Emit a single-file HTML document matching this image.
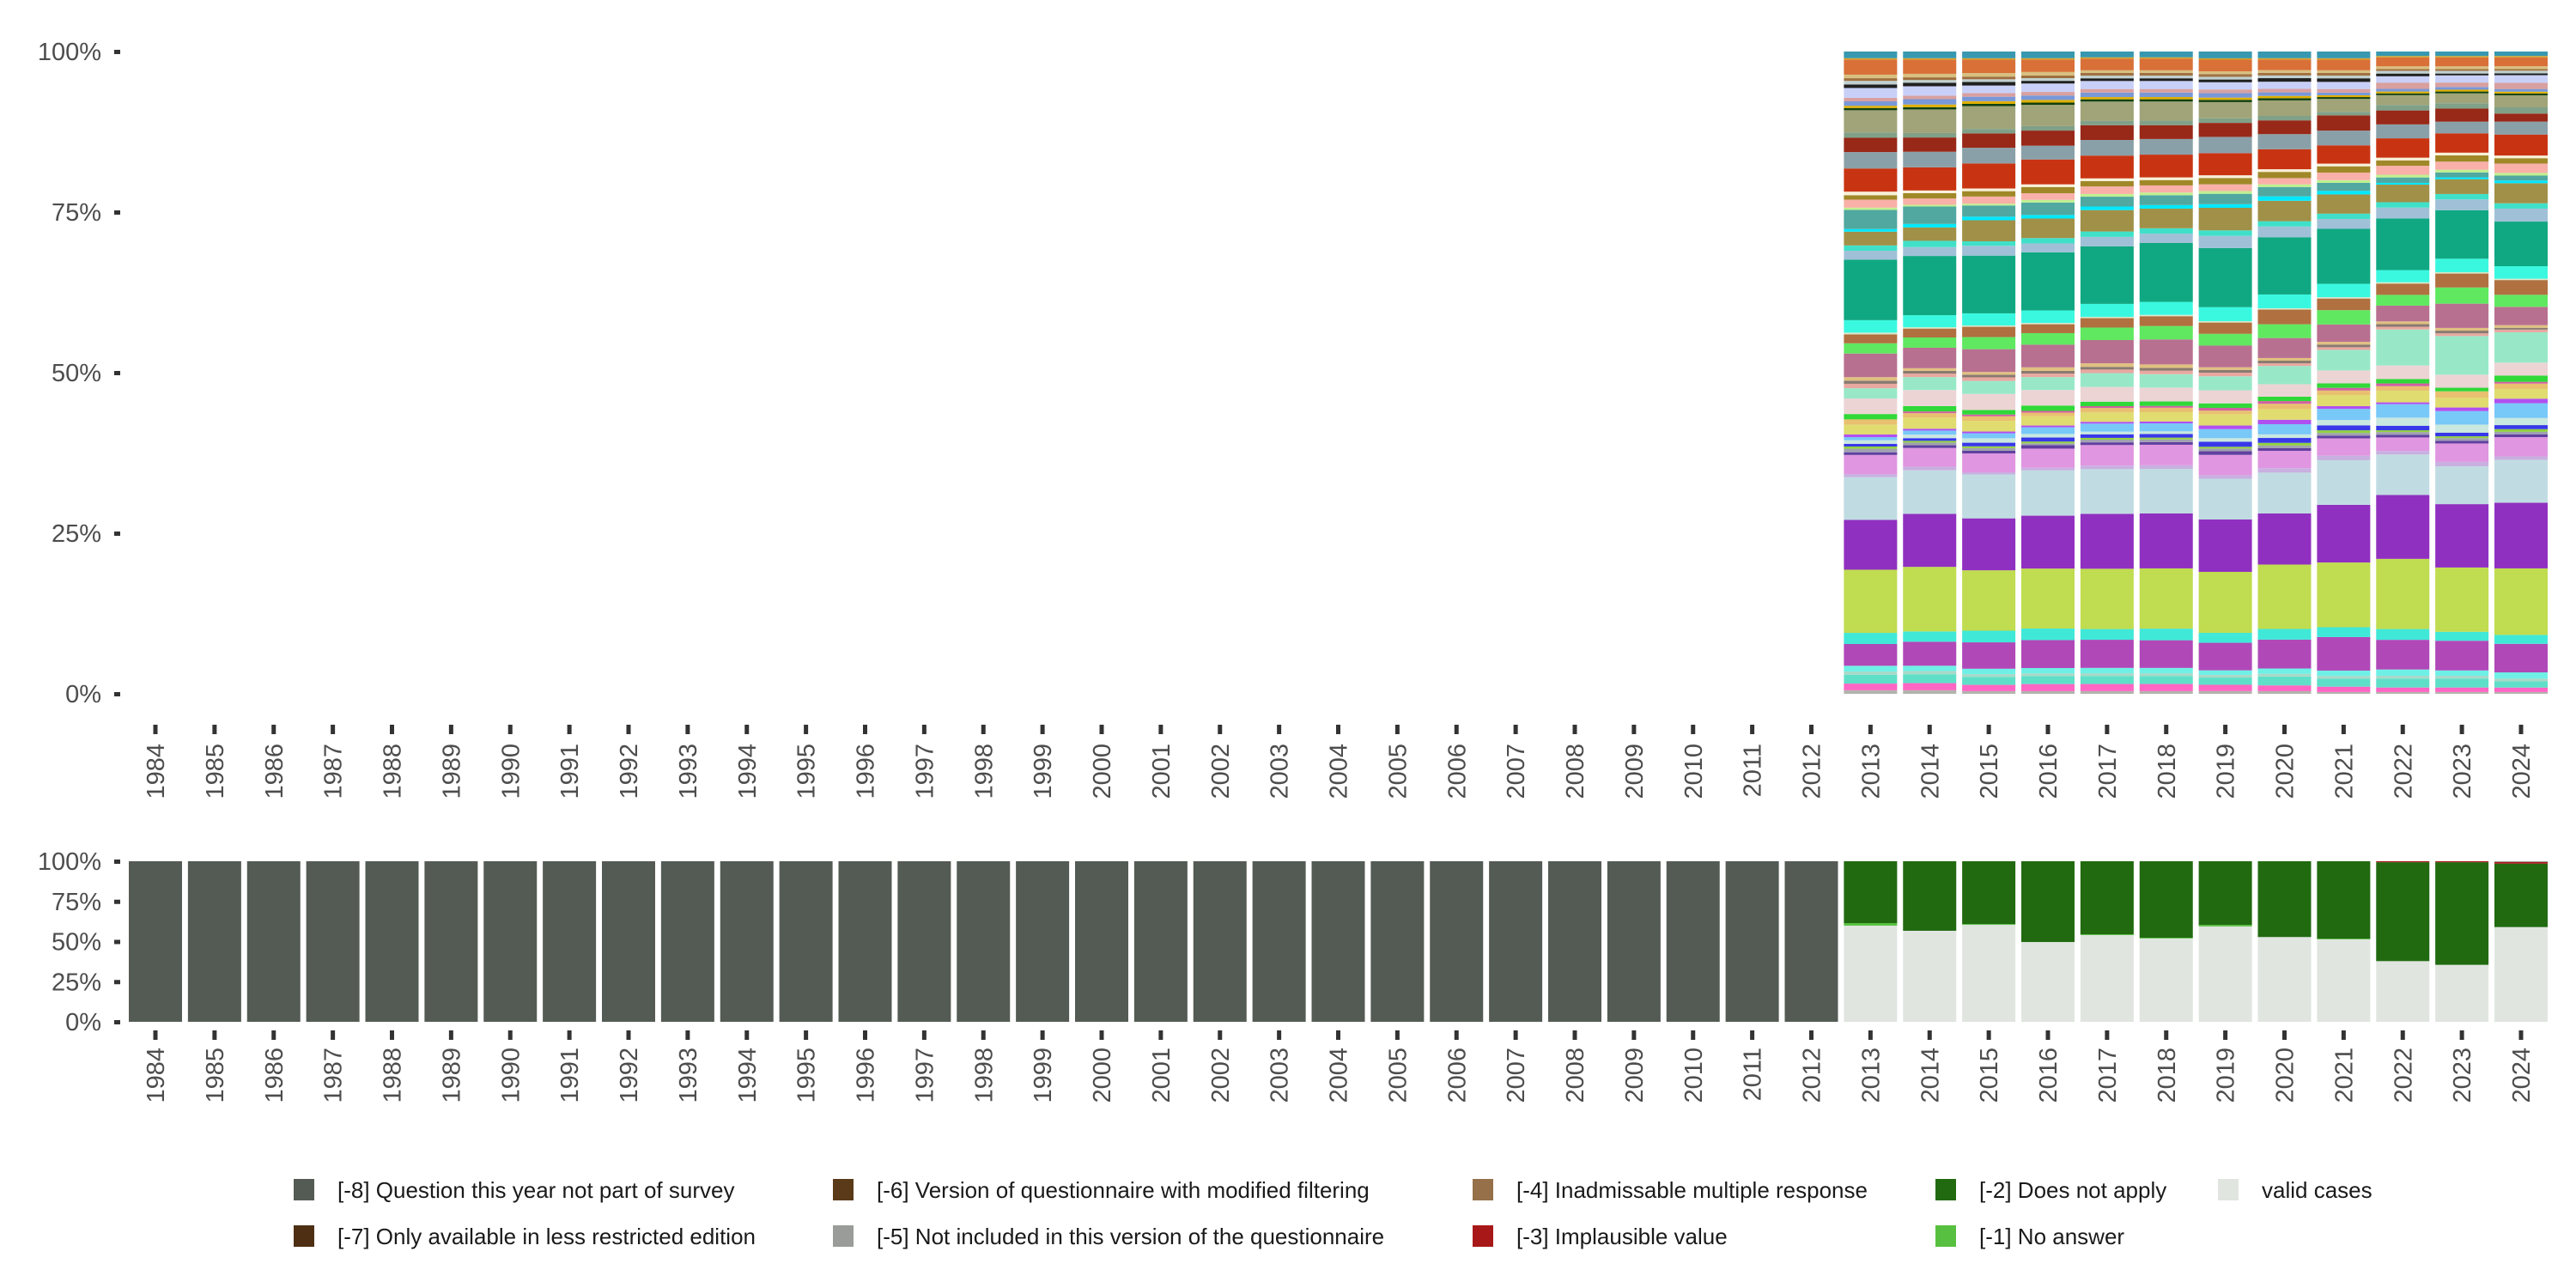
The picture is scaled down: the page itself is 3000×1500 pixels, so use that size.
<!DOCTYPE html>
<html><head><meta charset="utf-8">
<style>
html,body{margin:0;padding:0;background:#fff;}
svg{display:block;font-family:"Liberation Sans",sans-serif;}
</style></head>
<body>
<svg id="chart" width="3000" height="1500" viewBox="0 0 3000 1500" xmlns="http://www.w3.org/2000/svg">
<g id="top"></g>
<g id="bottom"></g>
<g id="legend"></g>
</svg>
<script>
// ---- data ----
const allYears = [1984,1985,1986,1987,1988,1989,1990,1991,1992,1993,1994,1995,1996,1997,1998,1999,2000,2001,2002,2003,2004,2005,2006,2007,2008,2009,2010,2011,2012,2013,2014,2015,2016,2017,2018,2019,2020,2021,2022,2023,2024];
const topYears = [2013,2014,2015,2016,2017,2018,2019,2020,2021,2022,2023,2024];
const yTickValues = [0,25,50,75,100];
const yTickLabels = ["0%","25%","50%","75%","100%"];
// top chart categories (bottom to top)
const segColors = ["#b3b3ad","#ff66c4","#5fdfc8","#a8d8c8","#6ff0e6","#b048b8","#40e8d8","#c0dc50","#9030c0","#c0dce2","#c8b0e0","#e096e0","#6040a0","#a0a0b0","#90d040","#3838e8","#c8e8e0","#78c8f8","#b050f0","#e0dc70","#e8c070","#d060a0","#30d838","#ecd4d4","#98e8c8","#e8a8a0","#8a7a70","#e0c080","#b87090","#60e860","#b07040","#d8e8c8","#3af8e0","#10a882","#a0c0d8","#40e0c8","#a09048","#00e8ff","#50a8a0","#c0f090","#f8b0a8","#a08828","#f8f0d8","#c83412","#8aa0a8","#982818","#80a088","#a0a478","#104010","#e0b000","#7898d8","#d8a0a0","#c8d0f8","#202020","#c0d0d0","#a07040","#d8c080","#d87038","#d8a020","#3898b0"];
const segValues = [
[8,8,6,6,6,6,6,6,4,4,4,4],
[15,16,14,16,16,16,14,13,12,10,10,10],
[20,20,18,18,18,18,16,20,18,20,20,14],
[7,7,6,6,6,6,6,6,6,6,6,6],
[13,12,12,12,12,12,10,12,12,14,12,14],
[49,54,59,63,63,62,61,65,75,66,66,64],
[25,23,26,26,24,26,22,24,22,24,20,20],
[142,145,135,135,135,135,135,145,145,156,143,149],
[112,119,116,119,123,123,116,115,129,142,141,147],
[96,98,98,102,100,100,90,92,100,90,84,96],
[7,8,5,6,8,8,8,10,10,8,10,8],
[43,42,42,43,46,46,45,39,39,30,41,43],
[6,6,6,8,6,6,8,6,6,6,6,6],
[8,6,6,4,6,6,6,6,6,6,6,6],
[5,4,4,4,4,4,4,6,6,4,4,6],
[6,6,8,9,8,8,11,11,11,10,8,9],
[8,8,10,8,6,6,8,8,12,18,18,16],
[7,9,11,15,18,18,20,23,25,30,30,33],
[6,4,4,4,4,4,8,10,6,4,8,10],
[22,25,24,21,21,21,25,24,25,26,22,22],
[12,10,10,8,10,10,8,12,10,10,14,12],
[0,4,4,4,4,4,6,6,6,6,0,4],
[12,12,10,12,10,10,10,10,10,10,8,14],
[35,36,36,35,33,31,29,28,29,30,29,29],
[23,29,29,29,31,30,31,41,46,80,86,68],
[10,8,8,8,8,8,8,6,6,6,6,6],
[7,6,6,6,6,6,6,6,6,6,6,4],
[8,6,6,8,8,8,6,6,6,6,6,6],
[53,46,51,51,52,56,48,45,39,35,54,41],
[23,23,27,26,28,30,26,31,32,24,36,27],
[20,20,23,20,21,22,25,33,26,25,31,33],
[4,3,3,3,3,3,3,3,3,3,3,3],
[28,27,27,28,29,29,31,31,30,27,30,28],
[136,133,129,131,129,132,131,129,123,115,108,100],
[20,20,22,20,21,21,27,24,22,24,24,29],
[12,14,10,12,12,12,12,12,12,12,12,12],
[31,30,47,44,48,44,50,46,43,39,33,45],
[6,8,8,8,8,8,8,10,8,4,4,6],
[43,39,25,28,22,22,23,21,18,12,11,11],
[5,4,4,6,6,6,6,6,6,6,6,6],
[18,14,16,15,17,16,15,14,17,20,18,21],
[10,12,12,14,12,12,14,14,14,12,14,12],
[8,6,6,6,6,6,6,6,6,6,6,6],
[52,52,56,56,51,51,49,45,41,43,43,47],
[37,35,35,31,35,35,36,34,33,31,26,29],
[32,32,32,34,33,31,31,31,34,31,29,18],
[12,10,10,10,10,10,10,10,8,12,12,14],
[50,53,51,48,43,43,36,35,29,22,22,27],
[5,5,5,5,5,5,5,5,4,4,4,4],
[5,6,6,6,5,5,5,5,4,4,4,4],
[10,12,10,10,10,10,10,8,6,6,6,6],
[8,8,8,8,8,8,8,8,8,14,10,14],
[22,21,17,19,18,18,16,16,16,14,16,17],
[8,8,8,6,6,6,6,8,8,6,4,4],
[8,6,6,6,6,6,6,6,6,6,6,6],
[6,6,6,6,6,6,6,6,6,4,4,4],
[8,8,8,8,6,6,6,6,6,6,6,6],
[34,32,30,28,26,26,26,24,24,20,20,20],
[3,3,3,3,3,3,3,3,3,3,3,3],
[15,15,15,15,13,13,15,15,15,10,10,10]
];
// bottom chart (percent), indexed by allYears
const notPartOfSurvey = [100,100,100,100,100,100,100,100,100,100,100,100,100,100,100,100,100,100,100,100,100,100,100,100,100,100,100,100,100,0,0,0,0,0,0,0,0,0,0,0,0];
const validCases = [0,0,0,0,0,0,0,0,0,0,0,0,0,0,0,0,0,0,0,0,0,0,0,0,0,0,0,0,0,59.9,56.7,60.4,49.7,54.0,51.9,59.4,52.8,51.3,37.8,35.5,59.0];
const noAnswer = [0,0,0,0,0,0,0,0,0,0,0,0,0,0,0,0,0,0,0,0,0,0,0,0,0,0,0,0,0,1.6,0,0.5,0,0.5,0.5,1.0,0,0.5,0,0,0];
const doesNotApply = [0,0,0,0,0,0,0,0,0,0,0,0,0,0,0,0,0,0,0,0,0,0,0,0,0,0,0,0,0,38.5,43.3,39.1,50.3,45.5,47.6,39.6,47.2,48.2,61.6,63.9,39.5];
const implausible = [0,0,0,0,0,0,0,0,0,0,0,0,0,0,0,0,0,0,0,0,0,0,0,0,0,0,0,0,0,0,0,0,0,0,0,0,0,0,0.6,0.6,1.0];
const notIncluded = [0,0,0,0,0,0,0,0,0,0,0,0,0,0,0,0,0,0,0,0,0,0,0,0,0,0,0,0,0,0,0,0,0,0,0,0,0,0,0,0,0.5];
const legendLabels = ["[-8] Question this year not part of survey","[-7] Only available in less restricted edition","[-6] Version of questionnaire with modified filtering","[-5] Not included in this version of the questionnaire","[-4] Inadmissable multiple response","[-3] Implausible value","[-2] Does not apply","[-1] No answer","valid cases"];
const legendColors = ["#545b54","#4f2f14","#5a3a18","#999c98","#957048","#a81818","#216a10","#58c040","#e0e5e0"];

// ---- layout ----
const NS="http://www.w3.org/2000/svg";
const X0=181, STEP=68.875, BW=62;
function xCenter(year){return X0+(year-1984)*STEP;}
function mk(tag,attrs,parent){const e=document.createElementNS(NS,tag);for(const k in attrs)e.setAttribute(k,attrs[k]);parent.appendChild(e);return e;}
function yTop(p){return 808-(p/100)*748;}
function yBot(p){return 1190-(p/100)*187;}

function axes(g,yScale,tickY0,labelY){
  yTickValues.forEach((v,i)=>{
    const y=yScale(v);
    const t=mk('rect',{x:133,y:y-2,width:7,height:5,fill:'#333'},g);
    
    
    const l=mk('text',{x:118,y:y+10,'text-anchor':'end','font-size':29,fill:'#4d4d4d'},g);
    l.textContent=yTickLabels[i];
    
    
  });
  allYears.forEach(yr=>{
    const cx=xCenter(yr);
    const t=mk('rect',{x:cx-2.5,y:tickY0,width:5,height:11,fill:'#333'},g);
    
    
    const l=mk('text',{x:0,y:0,'text-anchor':'end','font-size':29,fill:'#4d4d4d',transform:`translate(${cx+10},${labelY}) rotate(-90)`},g);
    l.textContent=String(yr);
    
    
  });
}

// top chart
const gt=document.getElementById('top');
axes(gt,yTop,844,866);
topYears.forEach((yr,j)=>{
  let total=0; segValues.forEach(r=>total+=r[j]);
  let cum=0;
  segValues.forEach((r,k)=>{
    const v=r[j]; if(v<=0) return;
    const p0=cum/total*100, p1=(cum+v)/total*100; cum+=v;
    const y1=yTop(p1), y0=yTop(p0);
    const rc=mk('rect',{x:xCenter(yr)-BW/2,y:y1,width:BW,height:y0-y1,fill:segColors[k]},gt);
    
    
  });
});

// bottom chart
const gb=document.getElementById('bottom');
axes(gb,yBot,1200,1220);
const bottomStack=[[validCases,"#e0e5e0","valid"],[noAnswer,"#58c040","no-answer"],[doesNotApply,"#216a10","does-not-apply"],[implausible,"#a81818","implausible"],[notIncluded,"#999c98","not-included"],[notPartOfSurvey,"#545b54","not-part"]];
allYears.forEach((yr,i)=>{
  let total=0; bottomStack.forEach(s=>total+=s[0][i]);
  let cum=0;
  bottomStack.forEach(s=>{
    const v=s[0][i]; if(v<=0) return;
    const p0=cum/total*100,p1=(cum+v)/total*100; cum+=v;
    const y1=yBot(p1),y0=yBot(p0);
    const rc=mk('rect',{x:xCenter(yr)-BW/2,y:y1,width:BW,height:y0-y1,fill:s[1]},gb);
    
    
  });
});

// legend
const gl=document.getElementById('legend');
const legPos=[[342,1373],[342,1427],[970,1373],[970,1427],[1715,1373],[1715,1427],[2254,1373],[2254,1427],[2583,1373]];
legendLabels.forEach((lab,i)=>{
  const [x,y]=legPos[i];
  const g=mk('g',{},gl);
  
  
  const sw=mk('rect',{x:x,y:y,width:24,height:25,fill:legendColors[i]},g);
  
  
  const t=mk('text',{x:x+51,y:y+22,'font-size':26,fill:'#1a1a1a'},g);
  t.textContent=lab;
  
  
});
</script>
</body></html>
